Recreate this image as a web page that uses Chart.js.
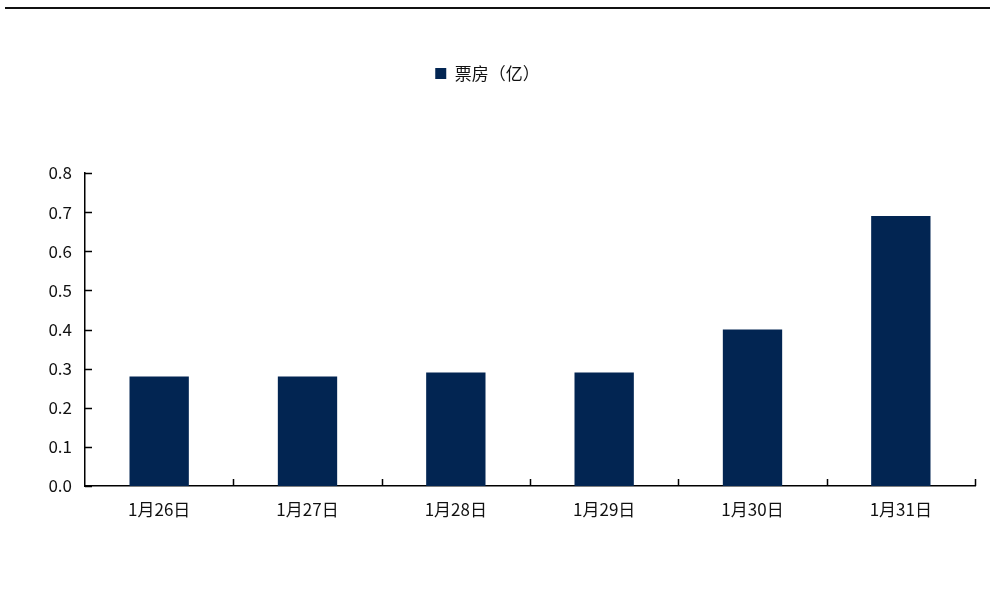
<!DOCTYPE html>
<html>
<head>
<meta charset="utf-8">
<title>票房</title>
<script src="https://cdn.jsdelivr.net/npm/chart.js@4.4.0/dist/chart.umd.min.js"></script>
<style>
  html, body { margin: 0; padding: 0; background: #fff; }
  #wrap { width: 992px; height: 595px; position: relative; }
</style>
</head>
<body>
<div id="wrap"><canvas id="boxChart" width="992" height="595"></canvas></div>
<script>
// Veriler
const categories = ['1月26日', '1月27日', '1月28日', '1月29日', '1月30日', '1月31日'];
const boxOffice = [0.28, 0.28, 0.29, 0.29, 0.40, 0.69];
const seriesName = '票房（亿）';
const yTicks = [0, 0.1, 0.2, 0.3, 0.4, 0.5, 0.6, 0.7, 0.8];

const barColor = '#022552';
const axisColor = '#000';
const fontFamily = '"Noto Sans CJK SC", "Noto Sans", sans-serif';

// Üst çizgi + içe bakan tik işaretleri
const decorPlugin = {
    id: 'decor',
    beforeInit(chart) {
        // legend altına boşluk ekle
        const fit = chart.legend.fit;
        chart.legend.fit = function () {
            fit.bind(chart.legend)();
            this.height += 81;
        };
    },
    beforeDraw(chart) {
        const ctx = chart.ctx;
        ctx.save();
        ctx.strokeStyle = '#111';
        ctx.lineWidth = 2;
        ctx.beginPath();
        ctx.moveTo(5, 8);
        ctx.lineTo(990, 8);
        ctx.stroke();
        ctx.restore();
    },
    afterDraw(chart) {
        const ctx = chart.ctx;
        const x = chart.scales.x;
        const y = chart.scales.y;
        const area = chart.chartArea;
        ctx.save();
        ctx.strokeStyle = axisColor;
        ctx.lineWidth = 1.5;
        ctx.beginPath();
        // y tikleri
        y.ticks.forEach((t) => {
            const py = Math.round(y.getPixelForValue(t.value)) + 0.5;
            ctx.moveTo(area.left, py);
            ctx.lineTo(area.left + 7, py);
        });
        // x tikleri (kategori sınırları)
        const half = (x.getPixelForValue(1) - x.getPixelForValue(0)) / 2;
        for (let i = 0; i < categories.length; i++) {
            const px = Math.round(x.getPixelForValue(i) + half) + 0.5;
            ctx.moveTo(px, area.bottom);
            ctx.lineTo(px, area.bottom - 7);
        }
        ctx.stroke();
        ctx.restore();
    }
};

const ctx = document.getElementById('boxChart').getContext('2d');
const boxChart = new Chart(ctx, {
    type: 'bar',
    data: {
        labels: categories,
        datasets: [{
            label: seriesName,
            data: boxOffice,
            backgroundColor: barColor,
            barPercentage: 0.4,
            categoryPercentage: 1.0
        }]
    },
    options: {
        responsive: false,
        animation: false,
        layout: {
            padding: { top: 55, left: 0, right: 17, bottom: 0 }
        },
        plugins: {
            legend: {
                position: 'top',
                labels: {
                    boxWidth: 11,
                    boxHeight: 11,
                    color: '#111',
                    font: { family: fontFamily, size: 17 }
                }
            },
            tooltip: { enabled: false }
        },
        scales: {
            x: {
                offset: true,
                grid: { display: false, drawTicks: false },
                border: { color: axisColor, width: 1.5 },
                ticks: {
                    color: '#111',
                    padding: 13,
                    font: { family: fontFamily, size: 17 }
                },
                afterFit(scale) { scale.height = 109; }
            },
            y: {
                min: 0,
                max: 0.8,
                afterBuildTicks(scale) {
                    scale.ticks = yTicks.map(v => ({ value: v }));
                },
                grid: { display: false, drawTicks: false },
                border: { color: axisColor, width: 1.5 },
                ticks: {
                    color: '#111',
                    padding: 13,
                    font: { family: fontFamily, size: 17 },
                    callback: (v) => Number(v).toFixed(1)
                },
                afterFit(scale) { scale.width = 85; }
            }
        }
    },
    plugins: [decorPlugin]
});
</script>
</body>
</html>
